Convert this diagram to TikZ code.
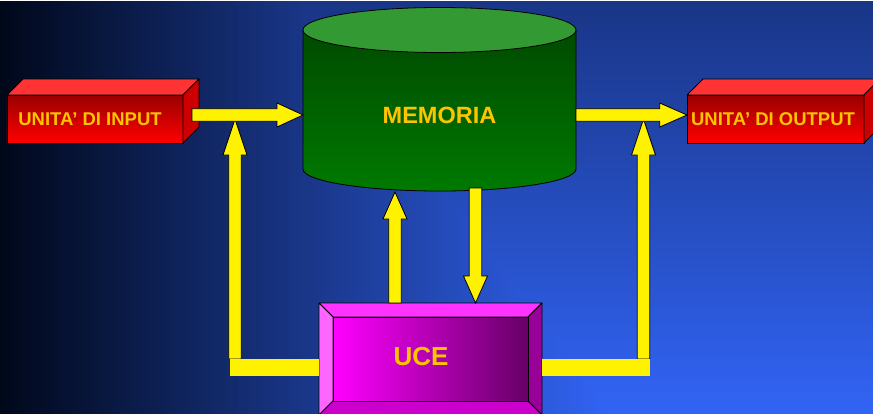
\documentclass[tikz,border=0pt]{standalone}
\usepackage{fontspec}
\setmainfont{Liberation Sans}
\usetikzlibrary{calc}

\definecolor{txtgold}{HTML}{FFC400}
\definecolor{redtop}{HTML}{FF3333}
\definecolor{redside}{HTML}{CC0000}
\definecolor{reddark}{HTML}{990000}
\definecolor{redmid}{HTML}{EE0000}
\definecolor{greentop}{HTML}{339933}
\definecolor{greendark}{HTML}{004A00}
\definecolor{greenlow}{HTML}{007A00}
\definecolor{magtop}{HTML}{FF33FF}
\definecolor{magleft}{HTML}{FF66FF}
\definecolor{magright}{HTML}{990099}
\definecolor{magbot}{HTML}{CC00CC}
\definecolor{magmid}{HTML}{C400C4}
\definecolor{magdark}{HTML}{660066}

% sfondo: sfumatura rettangolare dall'angolo in basso a destra
\pgfdeclarefunctionalshading{bgshade}{\pgfpointorigin}{\pgfpoint{654.75bp}{310.5bp}}{}{%
  262.5 add exch 1.33333 mul 873 exch sub
  2 copy sub abs add add 2 div 262.5 sub 611 div
  dup -0.196 mul 0.196 add exch dup -0.362 mul 0.392 add exch -0.861 mul 0.961 add}

\tikzset{
  lbl/.style={text=txtgold, font=\bfseries\fontsize{13.9}{16}\selectfont},
  redface/.style={draw=black, line width=0.6pt, top color=reddark, middle color=redmid, bottom color=red, outer sep=0pt},
  edge3d/.style={draw=black, line width=0.6pt, line join=round},
  yarrow/.style={fill=yellow, draw=black, line width=0.6pt, line join=miter},
}
\def\sw{4.7bp}
\def\hw{9bp}

% freccia gialla larga: da, a, lunghezza punta
\newcommand\fatarrow[3]{%
  \coordinate (hb) at ($(#2)!#3!(#1)$);
  \draw[yarrow] ($(#1)!\sw!90:(#2)$) -- ($(hb)!\sw!-90:(#1)$) -- ($(hb)!\hw!-90:(#1)$) -- (#2)
    -- ($(hb)!\hw!90:(#1)$) -- ($(hb)!\sw!90:(#1)$) -- ($(#1)!\sw!-90:(#2)$) -- cycle;}

% facce superiore e laterale del blocco
\newcommand\sidefaces[1]{%
  \filldraw[edge3d, fill=redtop] (#1.north west) -- ++(16,-16) -- ($(#1.north east)+(16,-16)$) -- (#1.north east) -- cycle;
  \filldraw[edge3d, fill=redside] (#1.north east) -- ++(16,-16) -- ++(0,48) -- (#1.south east) -- cycle;}

\begin{document}
\begin{tikzpicture}[x=0.75bp, y=-0.75bp]
  \useasboundingbox (0,0) rectangle (873,414);
  \clip (0,0) rectangle (873,414);
  \node[inner sep=0pt, outer sep=0pt, anchor=south west] (bg) at (0,414) {\pgfuseshading{bgshade}};

  % memoria
  \shade[edge3d, top color=greendark, bottom color=greenlow] (303,30) -- (303,169)
    arc[start angle=180, end angle=360, x radius=102.375bp, y radius=16.5bp] -- (576,30) -- cycle;
  \filldraw[edge3d, fill=greentop] (439.5,30) ellipse [x radius=102.375bp, y radius=16.875bp];
  \node[lbl, font=\bfseries\fontsize{17.7}{20}\selectfont, minimum width=204.75bp, minimum height=114bp, outer sep=0pt] (mem) at (439.5,115) {MEMORIA};

  % unita di ingresso e uscita
  \node[redface, minimum width=132bp, minimum height=36bp] (inp) at (95,119) {};
  \sidefaces{inp}
  \node[redface, minimum width=132.75bp, minimum height=36bp] (outp) at (775.5,119) {};
  \sidefaces{outp}
  \node[lbl] (inplbl) at (90,119) {UNITA’ DI INPUT};
  \node[lbl] (outplbl) at (773,119) {UNITA’ DI OUTPUT};

  % UCE
  \node[minimum width=167.25bp, minimum height=84bp, outer sep=0pt] (uce) at (430.5,359) {};
  \filldraw[edge3d, fill=magtop] (uce.north west) -- (uce.north east) -- ++(-14,14) -- ($(uce.north west)+(14,14)$) -- cycle;
  \filldraw[edge3d, fill=magleft] (uce.north west) -- ++(14,14) -- ($(uce.south west)+(14,-14)$) -- (uce.south west) -- cycle;
  \filldraw[edge3d, fill=magright] (uce.north east) -- ++(-14,14) -- ($(uce.south east)+(-14,-14)$) -- (uce.south east) -- cycle;
  \filldraw[edge3d, fill=magbot] (uce.south west) -- ++(14,-14) -- ($(uce.south east)+(-14,-14)$) -- (uce.south east) -- cycle;
  \shade[edge3d, left color=magenta, middle color=magmid, right color=magdark] ($(uce.north west)+(14,14)$) rectangle ($(uce.south east)+(-14,-14)$);
  \node[lbl, font=\bfseries\fontsize{19.6}{22}\selectfont] (ucelbl) at (421,357) {UCE};

  % estremi delle frecce
  \coordinate (inpR) at ($(inp.east)+(9,-4)$);
  \coordinate (outpL) at ($(outp.west)+(0,-4)$);
  \coordinate (lbot) at ($(uce.west)+(-84,0)$);
  \coordinate (ltop) at ($(inp.east)+(52,0)$);
  \coordinate (rbot) at ($(uce.east)+(101.5,0)$);
  \coordinate (rtop) at ($(outp.west)+(-43.5,0)$);
  \coordinate (upb) at ($(uce.north)+(-35.5,0)$);
  \coordinate (upt) at ($(mem.south)+(-44.5,1)$);
  \coordinate (dnt) at ($(mem.south)+(36,-3)$);
  \coordinate (dnb) at ($(uce.north)+(45,0)$);

  % frecce
  \fatarrow{lbot}{ltop}{27bp}
  \fatarrow{rbot}{rtop}{27bp}
  \fill[yellow] ($(uce.west)+(-89,0)$) rectangle ($(uce.west)+(0,17)$);
  \fill[yellow] (uce.east) rectangle ($(uce.east)+(108,17)$);
  \fatarrow{inpR}{mem.west}{19.5bp}
  \fatarrow{mem.east}{outpL}{20.5bp}
  \fatarrow{upb}{upt}{20.25bp}
  \fatarrow{dnt}{dnb}{20.25bp}
\end{tikzpicture}
\end{document}
